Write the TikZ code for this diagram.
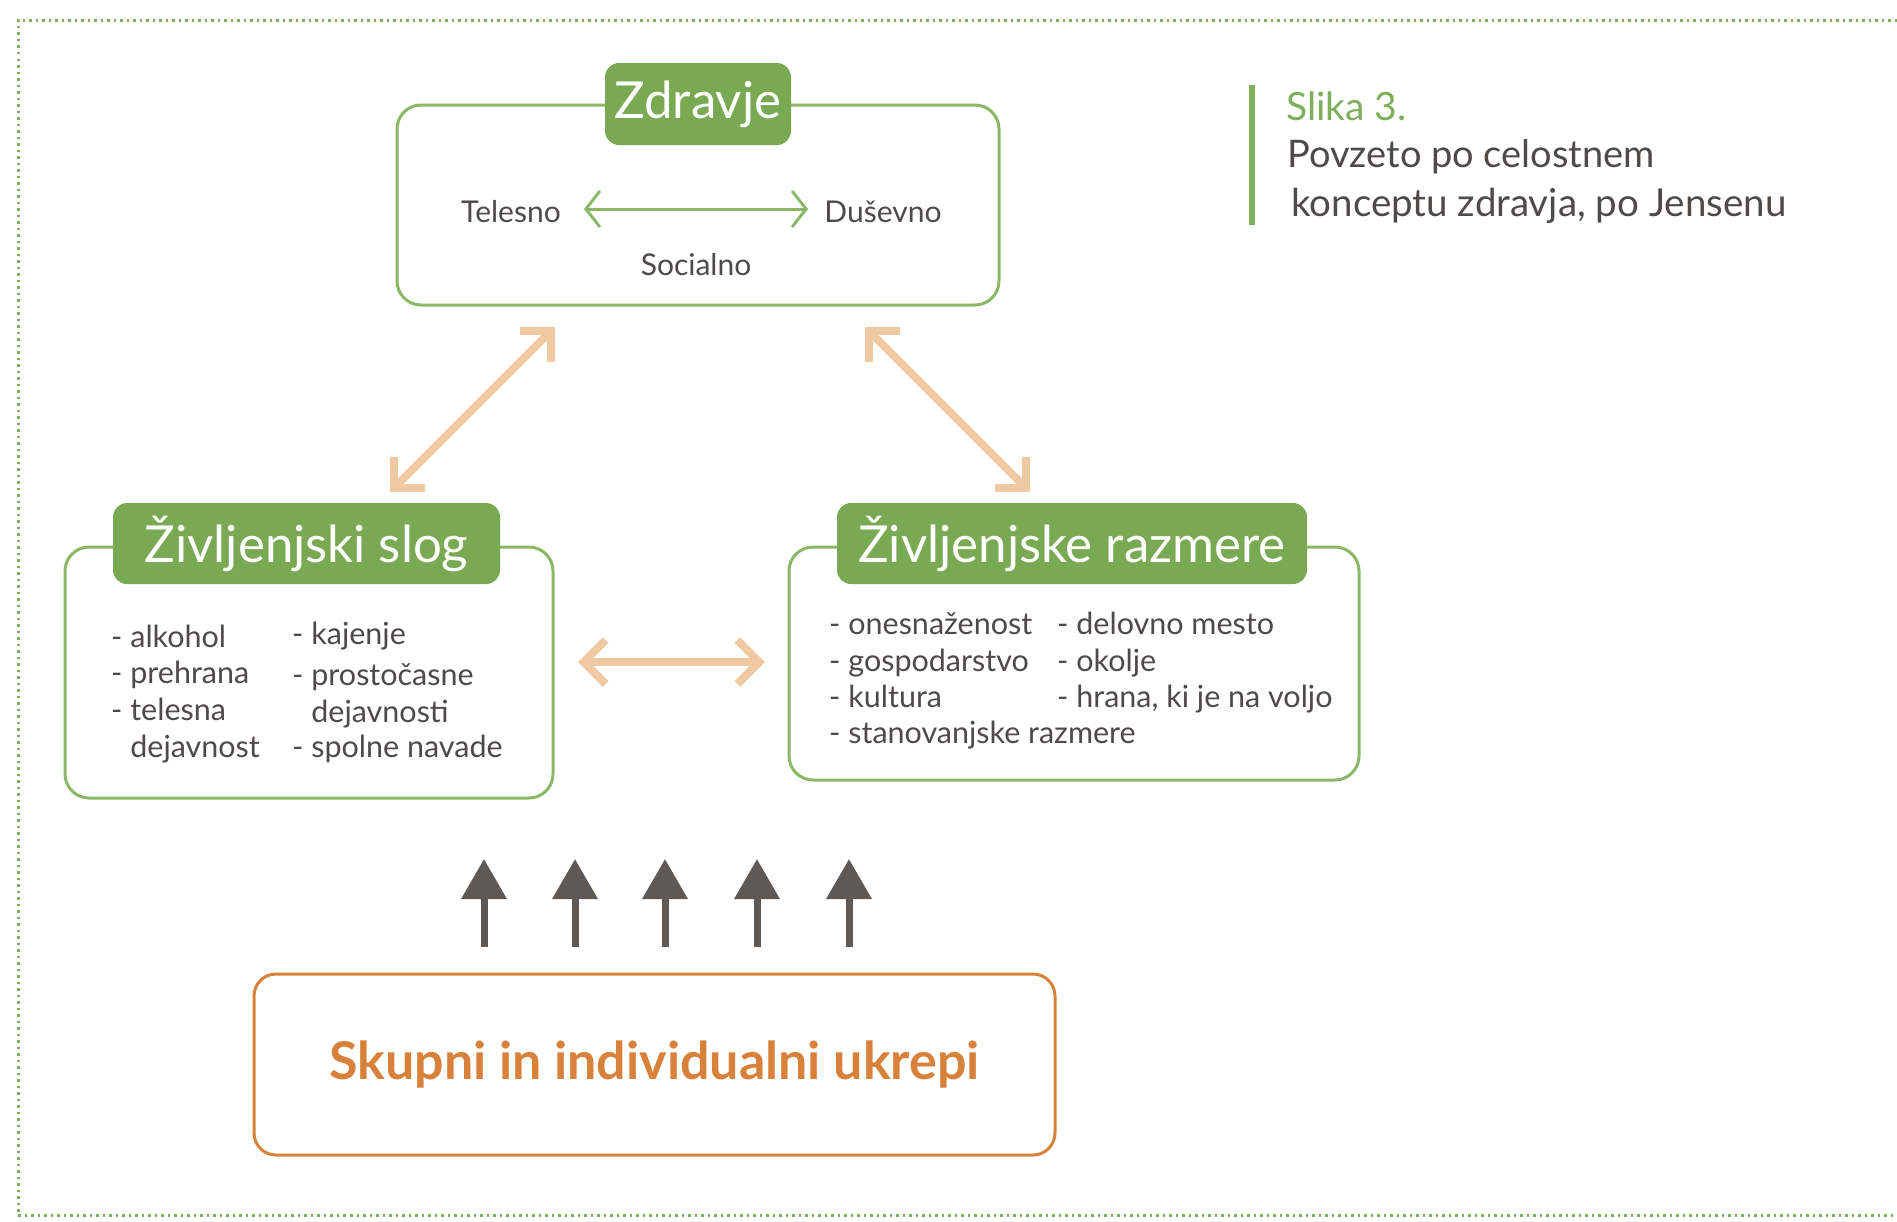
\documentclass[tikz,border=0pt]{standalone}
\usepackage{fontspec}
\setmainfont{Lato}
\usetikzlibrary{arrows.meta}
\definecolor{gbox}{HTML}{8BB866}
\definecolor{gfill}{HTML}{7AA953}
\definecolor{peach}{HTML}{EEC9A2}
\definecolor{txt}{HTML}{4D4A48}
\definecolor{darr}{HTML}{5E5955}
\definecolor{orng}{HTML}{D8813A}
\definecolor{gdot}{HTML}{7FAF5A}
\begin{document}
\begin{tikzpicture}[x=1pt,y=-1pt,
  outerbox/.style={draw=gbox, line width=3pt, rounded corners=24pt, fill=white, inner sep=0pt},
  labelbox/.style={fill=gfill, rounded corners=14pt, text=white, inner sep=0pt, font=\fontsize{51}{60}\selectfont},
  item/.style={text=txt, anchor=base west, inner sep=0pt, font=\fontsize{30.5}{36}\selectfont},
  small/.style={text=txt, inner sep=0pt, font=\fontsize{30}{34}\selectfont},
  peacharrow/.style={draw=peach, line width=8pt, {Straight Barb[length=22pt,width=44pt]}-{Straight Barb[length=22pt,width=44pt]}},
  greyarrow/.style={draw=darr, line width=7pt, -{Triangle[length=40pt,width=44pt]}},
  captext/.style={inner sep=0pt, anchor=west}
]
\useasboundingbox (0,0) rectangle (1897,1221);
% dotted frame
\draw[gdot, line width=3pt, dash pattern=on 2.5pt off 4pt] (1897,20) -- (18,20) -- (18,1215) -- (1897,1215);

% Zdravje
\node[outerbox, minimum width=602pt, minimum height=200pt] (zbox) at (698,205) {};
\node[labelbox, minimum width=186pt, minimum height=82pt] (zlab) at (698,104) {Zdravje};
\node[small] (tel) at (511,212) {Telesno};
\node[small] (dus) at (883,212) {Duševno};
\node[small] (soc) at (696,265) {Socialno};
\coordinate (ta) at (584,209);
\coordinate (tb) at (808,209);
\draw[draw=gbox, line width=3pt, {Straight Barb[length=14pt,width=36pt]}-{Straight Barb[length=14pt,width=36pt]}] (ta) -- (tb);

% Caption
\draw[gdot, line width=6pt] (1252,85) -- (1252,225);
\node[captext, text=gdot, font=\fontsize{39}{44}\selectfont] (slika) at (1286,106) {Slika 3.};
\node[captext, text=txt, font=\fontsize{38}{44}\selectfont] (pov) at (1287,157) {Povzeto po celostnem};
\node[captext, text=txt, font=\fontsize{38.5}{44}\selectfont] (kon) at (1291,206) {konceptu zdravja, po Jensenu};

% Zivljenjski slog
\node[outerbox, minimum width=488pt, minimum height=251pt] (sbox) at (309,672.5) {};
\node[labelbox, minimum width=387pt, minimum height=81pt] (slab) at (306.5,543.5) {Življenjski slog};
\node[item] (s1) at (111,647) {- alkohol};
\node[item] (s2) at (111,683) {- prehrana};
\node[item] (s3) at (111,720) {- telesna};
\node[item] (s4) at (111,757) {\phantom{- }dejavnost};
\node[item] (s5) at (292,644) {- kajenje};
\node[item] (s6) at (292,685) {- prostočasne};
\node[item] (s7) at (292,722) {\phantom{- }dejavnosti};
\node[item] (s8) at (292,757) {- spolne navade};

% Zivljenjske razmere
\node[outerbox, minimum width=570pt, minimum height=233pt] (rbox) at (1074,663.5) {};
\node[labelbox, minimum width=470pt, minimum height=81pt] (rlab) at (1072,543.5) {Življenjske razmere};
\node[item] (r1) at (829,634) {- onesnaženost};
\node[item] (r2) at (829,671) {- gospodarstvo};
\node[item] (r3) at (829,707) {- kultura};
\node[item] (r4) at (829,743) {- stanovanjske razmere};
\node[item] (r5) at (1057,634) {- delovno mesto};
\node[item] (r6) at (1057,671) {- okolje};
\node[item] (r7) at (1057,707) {- hrana, ki je na voljo};

% peach arrows
\coordinate (a1) at (390,492);
\coordinate (a2) at (555,327);
\coordinate (b1) at (865,327);
\coordinate (b2) at (1030,492);
\coordinate (c1) at (578,662);
\coordinate (c2) at (765,662);
\draw[peacharrow] (a1) -- (a2);
\draw[peacharrow] (b1) -- (b2);
\draw[peacharrow] (c1) -- (c2);

% bottom box
\node[draw=orng, line width=3pt, rounded corners=22pt, minimum width=801pt, minimum height=181pt, text=orng, font=\bfseries\fontsize{52}{60}\selectfont] (ukr) at (654.5,1064.5) {Skupni in individualni ukrepi};

% grey arrows
\foreach \i/\x in {1/484,2/575,3/665,4/757,5/849}{
  \coordinate (g\i a) at (\x,947);
  \coordinate (g\i b) at (\x,859);
  \draw[greyarrow] (g\i a) -- (g\i b);
}
\end{tikzpicture}
\end{document}
